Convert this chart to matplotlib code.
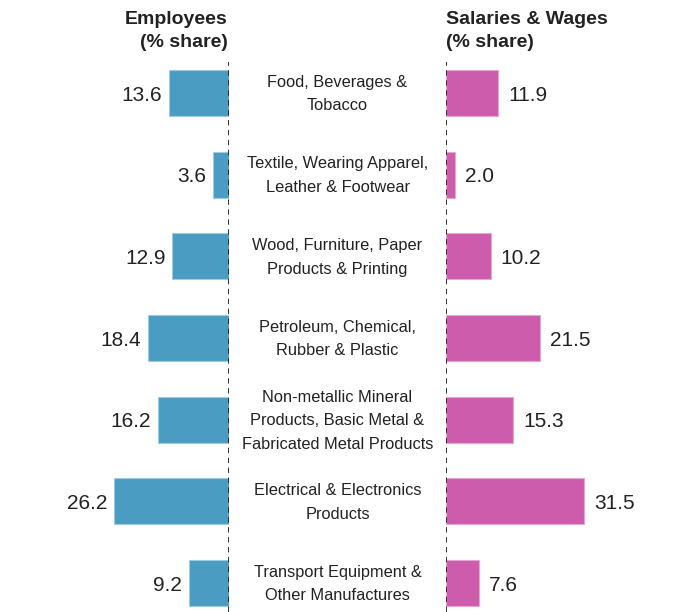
import matplotlib
matplotlib.use("Agg")
import matplotlib.pyplot as plt

categories = [
    "Food, Beverages &\nTobacco",
    "Textile, Wearing Apparel,\nLeather & Footwear",
    "Wood, Furniture, Paper\nProducts & Printing",
    "Petroleum, Chemical,\nRubber & Plastic",
    "Non-metallic Mineral\nProducts, Basic Metal &\nFabricated Metal Products",
    "Electrical & Electronics\nProducts",
    "Transport Equipment &\nOther Manufactures",
]
employees = [13.6, 3.6, 12.9, 18.4, 16.2, 26.2, 9.2]
salaries = [11.9, 2.0, 10.2, 21.5, 15.3, 31.5, 7.6]

plt.rcParams["font.family"] = ["Liberation Sans", "DejaVu Sans"]

W, H = 692, 612
fig = plt.figure(figsize=(W / 100, H / 100), dpi=100)

blue = "#4b9cc3"
pink = "#cd5dac"
y = list(range(len(categories)))
ylim = (6.355, -0.38)
top, bottom = 62, 612

def px_axes(x0, x1):
    return fig.add_axes([x0 / W, 1 - bottom / H, (x1 - x0) / W, (bottom - top) / H])

# left panel: employees
axl = px_axes(60, 229)
axl.barh(y, employees, height=0.56, color=blue, edgecolor="#9fcbe0", linewidth=0.8)
axl.set_xlim(169 / 4.39, 0)
axl.set_ylim(*ylim)
axl.axvline(0, color="#222222", linestyle=(0, (3, 2.5)), linewidth=1.3)
for yi, v in zip(y, employees):
    axl.annotate(f"{v:.1f}", (v, yi), xytext=(-5, -1.5), textcoords="offset points",
                 ha="right", va="center", fontsize=15, color="#222222")
axl.axis("off")

# right panel: salaries & wages
axr = px_axes(446, 680)
axr.barh(y, salaries, height=0.56, color=pink, edgecolor="#e6a6d2", linewidth=0.8)
axr.set_xlim(0, 234 / 4.39)
axr.set_ylim(*ylim)
axr.axvline(0, color="#222222", linestyle=(0, (3, 2.5)), linewidth=1.3)
for yi, v in zip(y, salaries):
    axr.annotate(f"{v:.1f}", (v, yi), xytext=(7, -1.5), textcoords="offset points",
                 ha="left", va="center", fontsize=15, color="#222222")
axr.axis("off")

# category labels in the middle
for yi, c in zip(y, categories):
    yp = 1 - (top + 1 + (yi - ylim[1]) / (ylim[0] - ylim[1]) * (bottom - top)) / H
    fig.text(337.5 / W, yp, c, ha="center", va="center", fontsize=11.8,
             linespacing=1.7, color="#222222")

fig.text(228 / W, 1 - 11 / H, "Employees\n(% share)", ha="right", va="top",
         fontsize=14, fontweight="bold", color="#222222", linespacing=1.45)
fig.text(446 / W, 1 - 11 / H, "Salaries & Wages\n(% share)", ha="left", va="top",
         fontsize=14, fontweight="bold", color="#222222", linespacing=1.45)

fig.savefig("out.png", dpi=100)
